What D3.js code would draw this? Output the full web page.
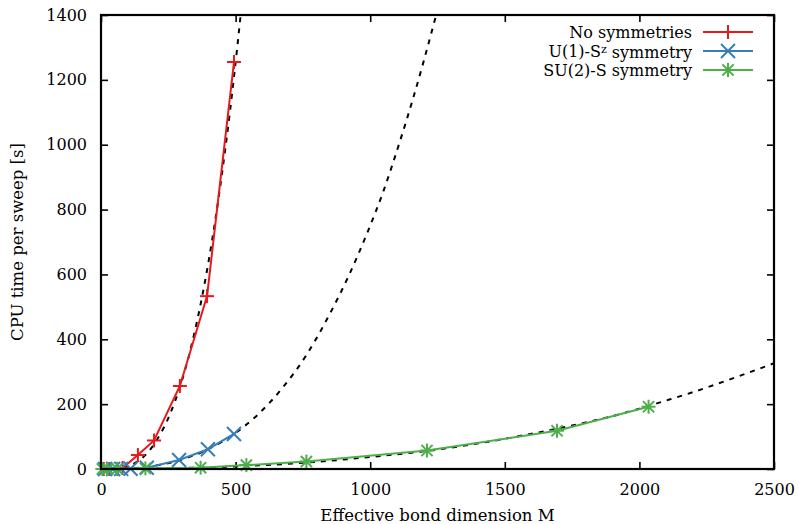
<!DOCTYPE html>
<html>
<head>
<meta charset="utf-8">
<script src="https://cdn.jsdelivr.net/npm/d3@7"></script>
<style>
  body { margin: 0; background: #fff; }
  svg text { font-family: "DejaVu Serif", "Liberation Serif", serif; font-size: 16.5px; fill: #000; }
  svg .legend text { font-size: 16px; }
</style>
</head>
<body>
<script>
const width  = 799;
const height = 524;
var margin = {top: 15, right: 25, bottom: 55, left: 101}
const font = '"DejaVu Serif", "Liberation Serif", serif'

// measured points (M, CPU seconds)
const m_none = [10, 30, 60, 80, 137, 197, 293, 394, 494]
const t_none = [0, 0, 0.5, 3, 43, 88, 256, 533, 1255]

const m_u1 = [15, 45, 75, 110, 170, 290, 397, 494]
const t_u1 = [0, 0, 0.3, 1, 4, 28, 61, 108]

const m_su2 = [5, 25, 60, 165, 370, 540, 763, 1211, 1694, 2034]
const t_su2 = [0, 0, 0.2, 2, 4, 12, 23, 57, 118, 192]

// dashed fit curves
const fit_none_m = [0, 100, 200, 250, 300, 350, 400, 446, 479, 505, 520]
const fit_none_t = [0, 10, 80, 157, 271, 430, 642, 890, 1102, 1292, 1410]

const fit_u1_m = [0, 100, 200, 300, 400, 494, 583, 676, 765, 851, 918, 988, 1047, 1111, 1159, 1237, 1260]
const fit_u1_t = [0, 1.5, 10, 29, 62, 108, 168, 252, 354, 480, 592, 726, 852, 1012, 1142, 1375, 1448]

const fit_su2_m = [0, 500, 750, 1000, 1211, 1545, 2000, 2087, 2199, 2362, 2500]
const fit_su2_t = [0, 8, 19, 37, 56, 100, 186, 208, 237, 284, 326]

const x_ticks = [0, 500, 1000, 1500, 2000, 2500]
const y_ticks = [0, 200, 400, 600, 800, 1000, 1200, 1400]

const series = [
  {name: "No symmetries", m: m_none, t: t_none, color: "#e41a1c", marker: "plus"},
  {name: "U(1)-S", sup: "z", name2: " symmetry", m: m_u1, t: t_u1, color: "#377eb8", marker: "cross"},
  {name: "SU(2)-S symmetry", m: m_su2, t: t_su2, color: "#4daf4a", marker: "star"}
]
const fits = [[fit_none_m, fit_none_t], [fit_u1_m, fit_u1_t], [fit_su2_m, fit_su2_t]]

const svg = d3.create("svg")
      .attr("width", width)
      .attr("height", height)
      .attr("viewBox", [0, 0, width, height])

const x = d3.scaleLinear()
      .domain([0, 2500])
      .range([margin.left, width - margin.right])

const y = d3.scaleLinear()
      .domain([0, 1400])
      .range([height - margin.bottom, margin.top])

const x0 = x.range()[0], x1 = x.range()[1]
const y0 = y.range()[0], y1 = y.range()[1]

svg.append("clipPath").attr("id", "plot-clip")
    .append("rect")
    .attr("x", x0).attr("y", y1)
    .attr("width", x1 - x0).attr("height", y0 - y1)

// ticks on all four sides, pointing inward
const tl = 7
const axes = svg.append("g")
axes.append("g")
    .attr("transform", `translate(0,${y0})`)
    .call(d3.axisBottom(x).tickValues(x_ticks).tickSize(-tl).tickPadding(tl + 8).tickFormat(d3.format("d")))
axes.append("g")
    .attr("transform", `translate(0,${y1})`)
    .call(d3.axisTop(x).tickValues(x_ticks).tickSize(-tl).tickFormat(""))
axes.append("g")
    .attr("transform", `translate(${x0},0)`)
    .call(d3.axisLeft(y).tickValues(y_ticks).tickSize(-tl).tickPadding(tl + 7).tickFormat(d3.format("d")))
axes.append("g")
    .attr("transform", `translate(${x1},0)`)
    .call(d3.axisRight(y).tickValues(y_ticks).tickSize(-tl).tickFormat(""))

axes.selectAll(".domain").remove()
axes.selectAll("g").attr("font-family", font).attr("font-size", 16)
axes.selectAll(".tick line").attr("stroke", "#000").attr("stroke-width", 1.6)
axes.selectAll(".tick text").attr("fill", "#000").style("font-size", "16px")

// dashed fits
const plot = svg.append("g").attr("clip-path", "url(#plot-clip)")
fits.forEach(f => {
  plot.append("path")
      .datum(d3.range(f[0].length))
      .attr("fill", "none")
      .attr("stroke", "#000")
      .attr("stroke-width", 2)
      .attr("stroke-dasharray", "5,6")
      .attr("d", d3.line().curve(d3.curveMonotoneX).x(i => x(f[0][i])).y(i => y(f[1][i])))
})

function marker(g, type, cx, cy, color){
  const r = 7
  let segs = []
  if (type == "plus" || type == "star") segs.push([-r, 0, r, 0], [0, -r, 0, r])
  if (type == "cross" || type == "star") {
    const q = type == "star" ? r * 0.8 : r
    segs.push([-q, -q, q, q], [-q, q, q, -q])
  }
  segs.forEach(s => g.append("line")
      .attr("x1", cx + s[0]).attr("y1", cy + s[1])
      .attr("x2", cx + s[2]).attr("y2", cy + s[3])
      .attr("stroke", color).attr("stroke-width", 2))
}

// data lines + markers
series.forEach(s => {
  const idx = d3.range(s.m.length)
  plot.append("path")
      .datum(idx)
      .attr("fill", "none")
      .attr("stroke", s.color)
      .attr("stroke-width", 2)
      .attr("d", d3.line().x(i => x(s.m[i])).y(i => y(s.t[i])))
  idx.forEach(i => marker(svg, s.marker, x(s.m[i]), y(s.t[i]), s.color))
})

// frame
svg.append("rect")
    .attr("x", x0).attr("y", y1)
    .attr("width", x1 - x0).attr("height", y0 - y1)
    .attr("fill", "none")
    .attr("stroke", "#000")
    .attr("stroke-width", 2.2)

// axis titles
svg.append("text")
    .attr("x", (x0 + x1) / 2)
    .attr("y", 521)
    .attr("text-anchor", "middle")
    .text("Effective bond dimension M")

svg.append("text")
    .attr("transform", `translate(23,${(y0 + y1) / 2}) rotate(-90)`)
    .attr("text-anchor", "middle")
    .text("CPU time per sweep [s]")

// legend
const leg = svg.append("g").attr("class", "legend")
series.forEach((s, i) => {
  const ly = 32 + i * 19
  const t = leg.append("text")
      .attr("x", 692)
      .attr("y", ly)
      .attr("dy", "0.35em")
      .attr("text-anchor", "end")
      .text(s.name)
  if (s.sup) {
    t.append("tspan").attr("dy", "-0.35em").style("font-size", "11px").text(s.sup)
    t.append("tspan").attr("dy", "0.35em").text(s.name2)
  }
  leg.append("line")
      .attr("x1", 703).attr("x2", 753)
      .attr("y1", ly).attr("y2", ly)
      .attr("stroke", s.color).attr("stroke-width", 2)
  marker(leg, s.marker, 728, ly, s.color)
})

document.body.append(svg.node());
</script>
</body>
</html>
